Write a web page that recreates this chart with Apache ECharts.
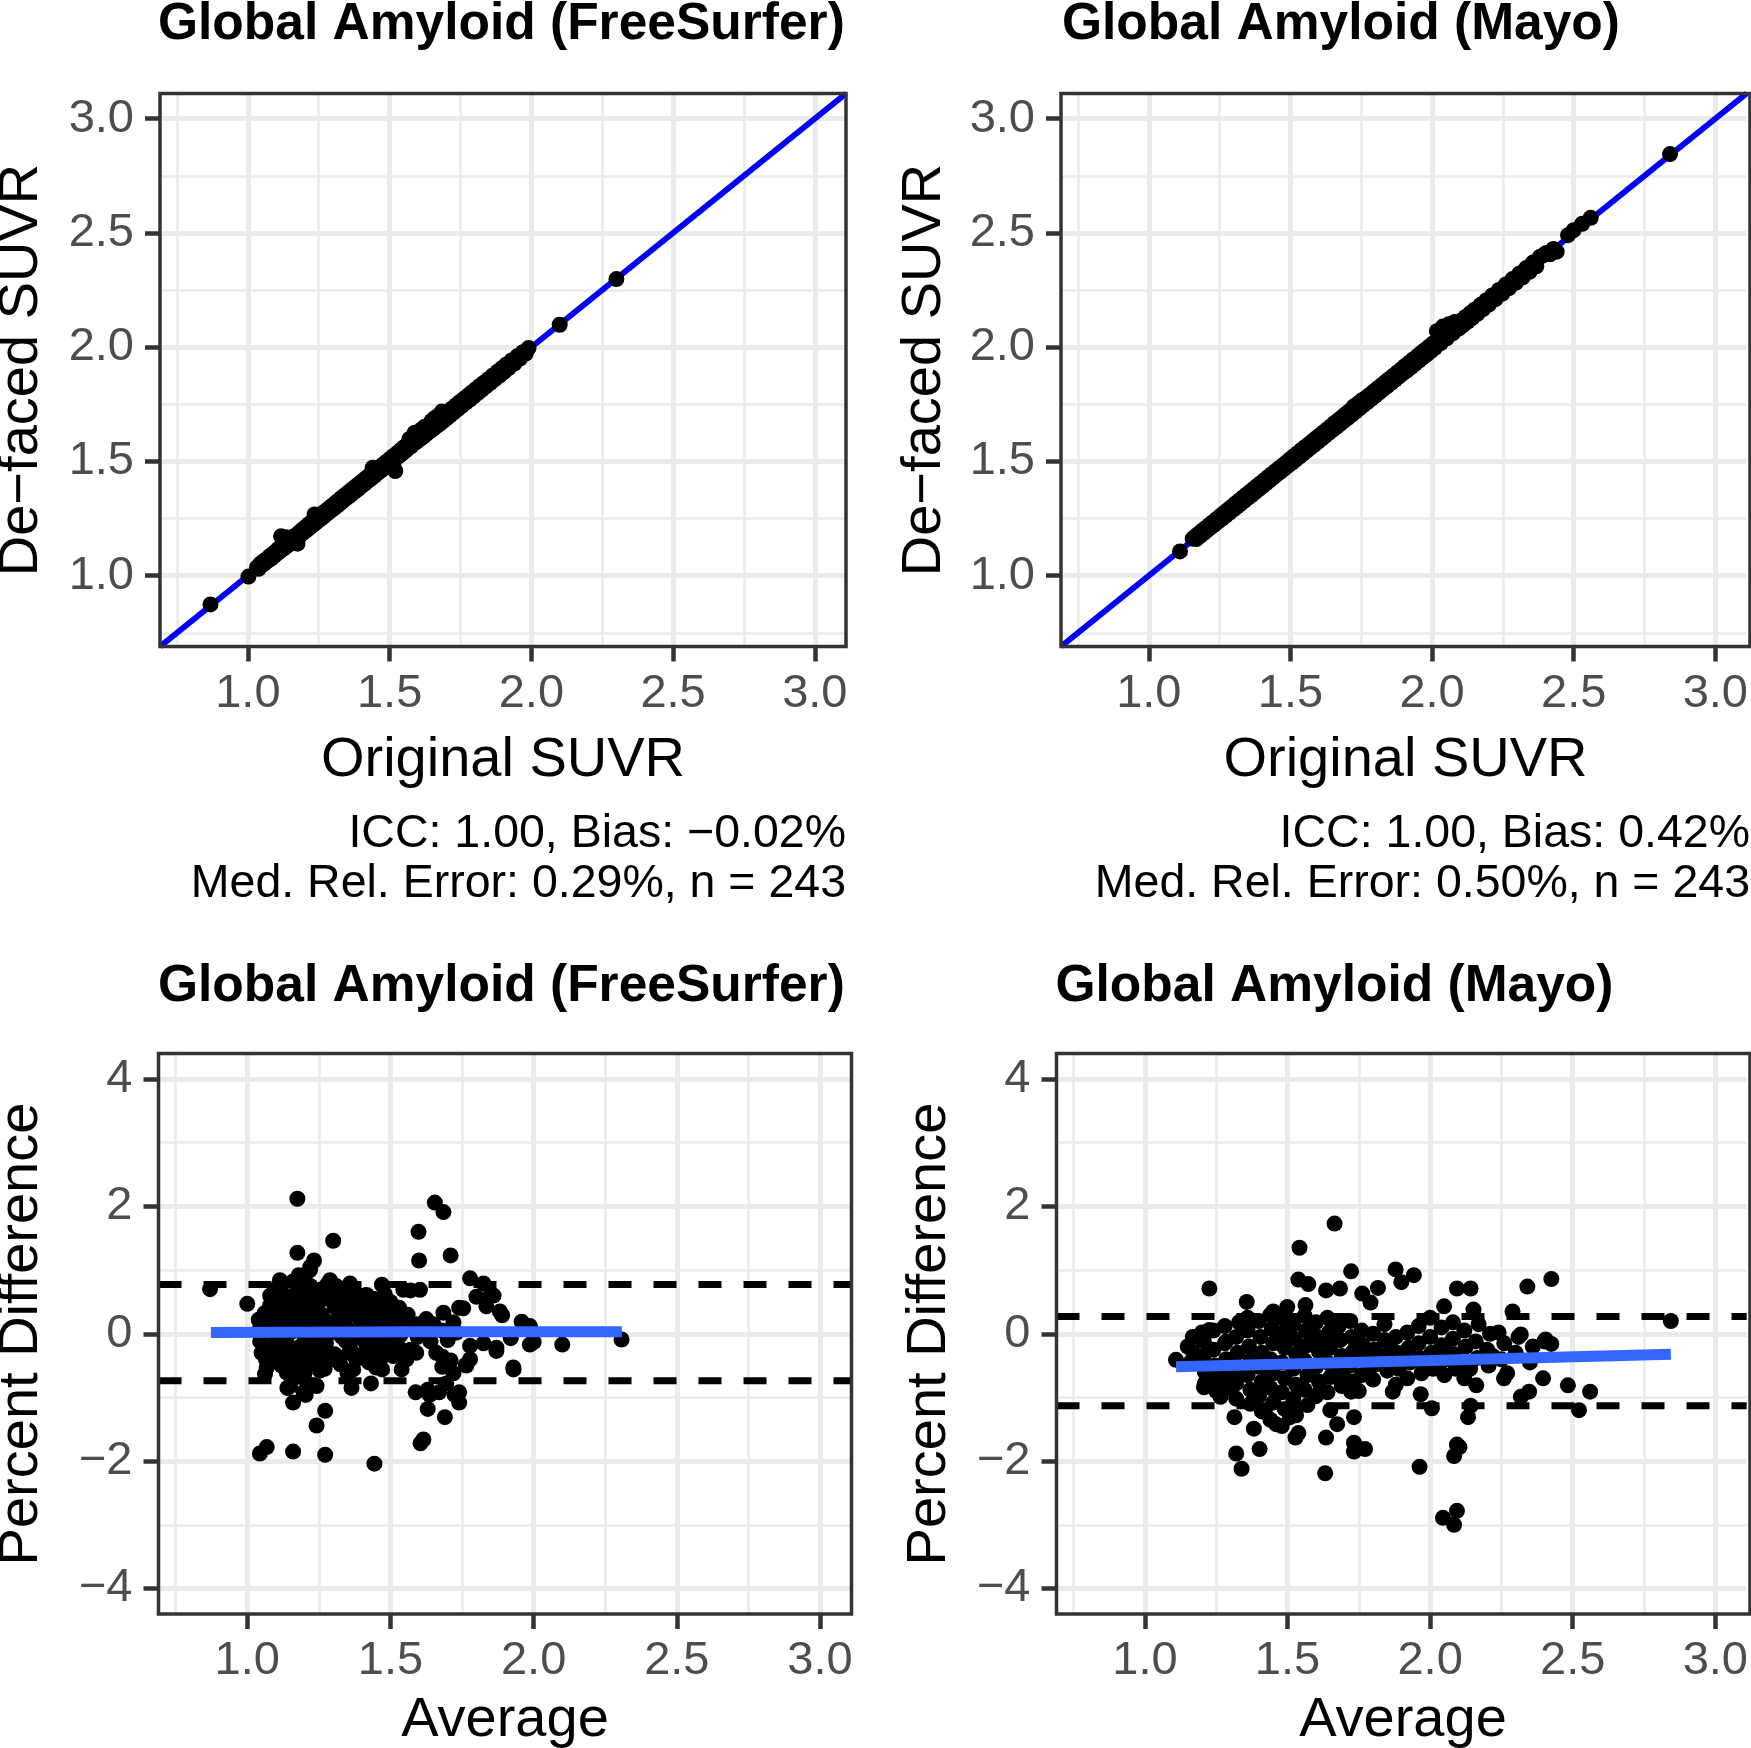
<!DOCTYPE html>
<html>
<head>
<meta charset="utf-8">
<script src="https://cdn.jsdelivr.net/npm/echarts@6/dist/echarts.min.js"></script>
<style>
html,body{margin:0;padding:0;background:#fff;}
#chart{width:1751px;height:1748px;}
</style>
</head>
<body>
<div id="chart"></div>
<script>
// ---------------- DATA ----------------
const panelTitles = ['Global Amyloid (FreeSurfer)', 'Global Amyloid (Mayo)', 'Global Amyloid (FreeSurfer)', 'Global Amyloid (Mayo)'];
const xAxisTitles = ['Original SUVR', 'Original SUVR', 'Average', 'Average'];
const yAxisTitles = ['De\u2212faced SUVR', 'De\u2212faced SUVR', 'Percent Difference', 'Percent Difference'];
const captionsFS = ['ICC: 1.00, Bias: \u22120.02%', 'Med. Rel. Error: 0.29%, n = 243'];
const captionsMayo = ['ICC: 1.00, Bias: 0.42%', 'Med. Rel. Error: 0.50%, n = 243'];

const suvrTicks = [1.0, 1.5, 2.0, 2.5, 3.0];
const suvrMinor = [0.75, 1.25, 1.75, 2.25, 2.75];
const pctTicks = [-4, -2, 0, 2, 4];
const pctMinor = [-3, -1, 1, 3];
const suvrRange = [0.69, 3.11];
const pctRange = [-4.4, 4.4];

// identity reference line (y = x) across the axis range
const identityLine = [[0.69, 0.69], [3.11, 3.11]];

// limits of agreement (dashed) and smooth fits (blue)
const fsLimits = [0.774, -0.737];
const mayoLimits = [0.27, -1.13];
const fsSmooth = [[0.873, 0.02], [1.6, 0.03], [2.308, 0.03]];
const mayoSmooth = [[1.109, -0.52], [2.0, -0.42], [2.844, -0.32]];

// Original vs De-faced (FreeSurfer)
const fsScatter = [
[0.868,0.874],[1.002,0.996],
[1.032,1.036],[1.038,1.030],[1.044,1.052],[1.050,1.046],[1.055,1.063],[1.060,1.054],[1.066,1.072],[1.071,1.066],[1.077,1.085],[1.082,1.075],[1.088,1.095],[1.093,1.087],[1.098,1.106],
[1.104,1.098],[1.108,1.118],[1.113,1.106],[1.117,1.172],[1.121,1.129],[1.126,1.119],[1.130,1.140],[1.135,1.168],[1.139,1.131],[1.144,1.153],[1.148,1.141],[1.153,1.161],[1.157,1.149],[1.162,1.171],[1.166,1.160],[1.171,1.178],[1.175,1.140],[1.180,1.188],[1.184,1.176],[1.189,1.198],[1.194,1.186],[1.198,1.207],
[1.203,1.195],[1.207,1.216],[1.212,1.204],[1.216,1.226],[1.221,1.214],[1.226,1.234],[1.230,1.222],[1.235,1.268],[1.239,1.231],[1.244,1.253],[1.248,1.241],[1.253,1.262],[1.258,1.250],[1.262,1.272],[1.267,1.259],[1.271,1.280],[1.276,1.268],[1.281,1.290],[1.285,1.277],[1.290,1.299],[1.295,1.287],
[1.300,1.309],[1.305,1.296],[1.310,1.320],[1.315,1.306],[1.320,1.329],[1.325,1.316],[1.330,1.340],[1.335,1.326],[1.340,1.350],[1.345,1.337],[1.350,1.360],[1.355,1.346],[1.360,1.370],[1.365,1.356],[1.370,1.380],[1.376,1.367],[1.382,1.392],[1.388,1.378],[1.394,1.404],
[1.400,1.391],[1.406,1.416],[1.412,1.402],[1.418,1.428],[1.424,1.415],[1.430,1.440],[1.436,1.426],[1.440,1.472],[1.442,1.452],[1.448,1.438],[1.454,1.464],[1.460,1.451],[1.466,1.476],[1.472,1.462],[1.478,1.488],[1.484,1.475],[1.490,1.500],[1.496,1.486],
[1.502,1.512],[1.508,1.498],[1.514,1.524],[1.520,1.458],[1.522,1.512],[1.528,1.538],[1.534,1.524],[1.540,1.551],[1.546,1.536],[1.552,1.563],[1.558,1.548],[1.564,1.575],[1.570,1.598],[1.576,1.566],[1.582,1.593],[1.588,1.625],[1.594,1.584],
[1.600,1.611],[1.606,1.596],[1.612,1.640],[1.618,1.608],[1.624,1.652],[1.630,1.620],[1.636,1.648],[1.642,1.632],[1.648,1.677],[1.654,1.642],[1.660,1.690],[1.666,1.654],[1.672,1.700],[1.678,1.666],[1.684,1.718],[1.690,1.678],[1.696,1.708],
[1.702,1.690],[1.708,1.720],[1.714,1.702],[1.720,1.732],[1.727,1.715],[1.734,1.746],[1.741,1.729],[1.748,1.760],[1.755,1.743],[1.762,1.774],[1.769,1.757],[1.776,1.788],[1.783,1.771],[1.790,1.802],[1.797,1.785],
[1.804,1.816],[1.811,1.799],[1.818,1.830],[1.825,1.813],[1.832,1.844],[1.840,1.828],[1.848,1.860],[1.856,1.844],[1.864,1.876],[1.872,1.860],[1.880,1.892],[1.888,1.876],[1.896,1.908],[1.904,1.892],[1.912,1.924],[1.920,1.908],[1.930,1.942],[1.940,1.928],[1.950,1.960],[1.960,1.950],[1.970,1.978],[1.980,1.972],[1.990,1.996],
[2.100,2.098],[2.300,2.298]
];

// Original vs De-faced (Mayo)
const mayoScatter = [
[1.110,1.106],
[1.155,1.162],[1.162,1.170],[1.168,1.160],[1.175,1.183],[1.181,1.173],[1.188,1.196],[1.194,1.186],[1.201,1.209],[1.207,1.199],[1.214,1.222],[1.220,1.212],[1.227,1.235],[1.233,1.225],[1.240,1.248],[1.246,1.238],[1.253,1.262],[1.259,1.250],[1.266,1.275],[1.272,1.263],[1.279,1.288],[1.285,1.276],[1.292,1.301],[1.298,1.289],
[1.305,1.315],[1.311,1.301],[1.318,1.328],[1.324,1.314],[1.331,1.341],[1.337,1.327],[1.344,1.354],[1.350,1.340],[1.357,1.367],[1.363,1.353],[1.370,1.380],[1.376,1.366],[1.383,1.393],[1.389,1.379],[1.396,1.406],[1.402,1.392],[1.409,1.419],[1.415,1.405],[1.422,1.432],[1.428,1.418],[1.435,1.445],[1.441,1.431],[1.448,1.458],[1.454,1.444],[1.461,1.471],[1.467,1.457],[1.474,1.484],[1.480,1.470],[1.487,1.497],[1.493,1.483],
[1.500,1.511],[1.506,1.495],[1.513,1.524],[1.519,1.508],[1.526,1.537],[1.532,1.521],[1.539,1.550],[1.545,1.534],[1.552,1.563],[1.558,1.547],[1.565,1.576],[1.571,1.560],[1.578,1.589],[1.584,1.573],[1.591,1.602],[1.597,1.586],[1.604,1.615],[1.610,1.599],[1.617,1.628],[1.623,1.612],[1.630,1.641],[1.636,1.625],[1.643,1.654],[1.649,1.638],[1.656,1.668],[1.662,1.650],[1.669,1.681],[1.675,1.663],[1.682,1.694],[1.688,1.676],[1.695,1.707],
[1.702,1.690],[1.709,1.721],[1.716,1.704],[1.723,1.740],[1.730,1.718],[1.737,1.752],[1.744,1.732],[1.751,1.766],[1.758,1.746],[1.765,1.777],[1.772,1.760],[1.779,1.791],[1.786,1.774],[1.793,1.805],[1.800,1.788],[1.807,1.819],[1.814,1.802],[1.821,1.833],[1.828,1.816],[1.835,1.847],[1.842,1.830],[1.849,1.861],[1.856,1.844],[1.863,1.875],[1.870,1.858],[1.877,1.889],[1.884,1.872],[1.891,1.903],
[1.898,1.886],[1.905,1.918],[1.912,1.899],[1.919,1.932],[1.926,1.913],[1.933,1.946],[1.940,1.927],[1.947,1.960],[1.954,1.941],[1.961,1.974],[1.968,1.955],[1.975,1.988],[1.982,1.969],[1.989,2.002],[1.996,1.983],[2.003,2.016],[2.010,1.997],[2.017,2.070],[2.024,2.037],[2.031,2.018],[2.038,2.090],[2.045,2.058],[2.052,2.039],[2.059,2.100],[2.066,2.079],[2.073,2.060],[2.080,2.110],[2.087,2.100],[2.094,2.081],
[2.102,2.116],[2.110,2.096],[2.118,2.132],[2.126,2.112],[2.134,2.148],[2.142,2.128],[2.150,2.164],[2.160,2.146],[2.170,2.184],[2.180,2.166],[2.190,2.204],[2.200,2.186],[2.212,2.226],[2.224,2.210],[2.236,2.250],[2.248,2.234],[2.260,2.274],[2.272,2.258],[2.284,2.298],[2.296,2.282],[2.308,2.322],[2.320,2.306],[2.332,2.346],[2.344,2.330],[2.356,2.370],[2.368,2.354],[2.380,2.394],[2.392,2.402],[2.404,2.412],[2.416,2.406],[2.428,2.430],[2.440,2.418],[2.480,2.490],[2.500,2.512],[2.530,2.540],[2.560,2.566],
[2.840,2.845]
];

// Bland-Altman (FreeSurfer): [average, percent difference]
const fsBlandAltman = [
[0.87,0.70],[1.00,0.47],[1.175,2.12],[1.30,1.46],[1.175,1.27],[1.233,1.15],[1.219,1.00],[1.598,1.60],[1.60,1.15],[1.655,2.06],
[1.685,1.91],[1.71,1.23],[1.778,0.87],[1.825,0.79],[1.80,0.58],[1.85,0.61],[1.754,0.40],[1.882,0.35],[1.835,0.43],[1.958,0.19],
[1.987,0.12],[1.685,0.33],[1.625,0.23],[1.72,0.18],[1.825,-0.15],[1.87,-0.22],[1.92,-0.07],[1.987,-0.17],[2.10,-0.17],[2.307,-0.09],
[1.778,-0.19],[1.778,-0.40],[1.765,-0.50],[1.929,-0.53],[1.681,-0.36],[1.681,-0.52],[1.72,-0.62],[1.63,-0.88],[1.67,-0.92],[1.74,-0.92],
[1.74,-1.08],[1.69,-1.31],[1.63,-1.18],[1.605,-1.72],[1.615,-1.66],[1.60,0.0],[1.114,0.84],[1.184,0.84],[1.289,0.84],[1.359,0.79],
[1.47,0.77],[1.417,0.61],[1.545,0.69],[1.52,0.40],[1.603,0.69],[1.068,-0.53],[1.138,-0.61],[1.254,-0.58],[1.37,-0.56],[1.45,-0.53],
[1.149,-0.82],[1.196,-0.92],[1.242,-0.82],[1.16,-1.08],[1.272,-1.21],[1.242,-1.44],[1.068,-1.78],[1.044,-1.88],[1.16,-1.85],[1.272,-1.90],
[1.444,-2.04],[1.556,-0.40],[1.52,-0.19],[1.364,-0.85],[1.432,-0.78],[1.588,-0.92],[1.637,-0.96],[1.724,-0.96],[1.695,-0.78],[1.763,-0.49],
[1.539,-0.56],[1.471,-0.56],[1.062,-0.63],[1.315,-0.42],[1.204,-0.96],[1.14,-0.85],[1.41,0.60],[1.57,0.68],[1.53,0.41],[1.74,0.41],
[1.86,0.60],[1.89,0.29],[1.93,-0.56],[1.87,-0.27],[2.0,-0.13],
[1.04,0.05],[1.045,-0.12],[1.05,-0.30],[1.04,0.22],
[1.06,0.32],[1.065,0.10],[1.07,-0.22],[1.065,-0.40],
[1.08,0.45],[1.085,0.25],[1.09,-0.15],[1.085,-0.33],[1.08,0.60],
[1.10,0.70],[1.105,0.52],[1.11,0.15],[1.10,-0.02],[1.11,-0.45],
[1.12,0.78],[1.125,0.62],[1.12,0.40],[1.13,0.22],[1.125,-0.10],[1.13,-0.30],[1.12,-0.50],
[1.14,0.55],[1.145,0.38],[1.15,0.02],[1.145,-0.20],[1.14,-0.38],
[1.16,0.82],[1.165,0.60],[1.17,0.28],[1.16,0.10],[1.17,-0.28],[1.16,-0.50],[1.17,-0.68],
[1.18,0.72],[1.185,0.52],[1.18,0.35],[1.19,0.15],[1.185,-0.20],[1.19,-0.42],[1.18,0.92],
[1.20,0.85],[1.205,0.65],[1.20,0.46],[1.21,0.25],[1.20,0.05],[1.21,-0.35],[1.20,-0.62],[1.21,-0.78],
[1.22,0.75],[1.225,0.55],[1.23,0.12],[1.22,-0.05],[1.225,-0.25],[1.23,-0.45],[1.22,1.05],
[1.24,0.62],[1.245,0.42],[1.25,0.02],[1.245,-0.18],[1.24,-0.38],
[1.26,0.70],[1.26,0.30],[1.27,0.10],[1.265,-0.30],[1.27,-0.55],
[1.28,0.78],[1.285,0.55],[1.29,0.18],[1.28,-0.02],[1.29,-0.40],
[1.30,0.62],[1.305,0.42],[1.31,0.05],[1.305,-0.32],[1.31,0.75],
[1.32,0.55],[1.325,0.35],[1.33,-0.05],[1.325,-0.48],
[1.34,0.68],[1.34,0.25],[1.35,0.08],[1.345,-0.12],[1.35,-0.62],
[1.36,0.52],[1.365,0.30],[1.37,-0.08],[1.365,-0.28],
[1.38,0.62],[1.385,0.40],[1.39,0.02],[1.38,-0.40],
[1.40,0.48],[1.405,0.28],[1.41,-0.12],[1.405,-0.32],
[1.42,0.38],[1.425,0.18],[1.43,-0.22],[1.425,-0.45],
[1.44,0.55],[1.445,0.30],[1.45,-0.08],[1.445,-0.28],
[1.46,0.42],[1.465,0.20],[1.47,-0.20],[1.465,-0.40],
[1.48,0.62],[1.485,0.32],[1.49,-0.05],[1.485,-0.25],
[1.50,0.25],[1.505,0.05],[1.51,-0.35],[1.50,0.50],
[1.53,0.18],[1.535,-0.02],[1.53,-0.22],
[1.56,0.30],[1.565,0.10],[1.57,-0.25],
[1.59,0.15],[1.595,-0.05],[1.59,-0.30],
[1.62,0.08],[1.64,-0.12],[1.65,0.15],[1.66,-0.30],[1.68,0.05],[1.70,-0.10],[1.71,-0.42],[1.73,0.02],
[1.095,0.35],[1.135,-0.05],[1.155,0.45],[1.195,0.00],[1.235,0.30],[1.255,0.55],[1.275,-0.15],[1.335,0.45],[1.355,-0.30],[1.395,0.22]
];

// Bland-Altman (Mayo): [average, percent difference]
const mayoBlandAltman = [
[1.665,1.73],[1.542,1.35],[1.723,0.98],[1.879,1.01],[1.943,0.92],[1.899,0.81],[2.425,0.86],[2.341,0.74],[1.226,0.71],[1.538,0.85],
[1.573,0.78],[1.635,0.68],[1.684,0.71],[1.762,0.63],[1.817,0.72],[1.791,0.49],[2.094,0.71],[2.142,0.71],[2.049,0.43],[2.152,0.38],
[2.289,0.35],[2.844,0.20],[1.357,0.50],[1.563,0.45],[1.499,0.42],[1.45,0.35],[1.226,0.06],[1.168,-0.05],[1.285,-0.12],[1.109,-0.41],
[1.207,-0.84],[1.265,-0.99],[1.314,-1.31],[1.32,-1.88],[1.339,-2.12],[1.402,-1.81],[1.382,-1.49],[1.421,-1.20],[1.46,-1.42],[1.509,-1.31],
[1.538,-1.56],[1.528,-1.63],[1.632,-2.19],[1.674,-1.42],[1.635,-1.63],[1.616,-0.88],[1.733,-1.71],[1.733,-1.85],[1.772,-1.81],[1.733,-1.31],
[1.723,-0.91],[1.772,-0.63],[1.869,-0.91],[1.967,-0.95],[1.963,-2.09],[2.006,-1.17],[2.094,-1.74],[2.084,-1.92],[2.103,-1.78],[2.045,-2.89],
[2.094,-2.78],[2.084,-3.0],[2.133,-1.31],[2.142,-1.13],[2.162,-0.81],[2.259,-0.70],[2.318,-0.99],[2.347,-0.91],[2.396,-0.70],[2.483,-0.81],
[2.561,-0.91],[2.522,-1.20],[2.318,-0.01],[2.405,-0.09],[2.425,-0.16],[2.24,0.02],[1.207,-0.12],
[1.15,-0.20],[1.16,-0.45],[1.17,-0.30],
[1.20,-0.10],[1.205,-0.35],[1.21,-0.60],[1.20,0.02],[1.21,-0.78],
[1.24,-0.25],[1.245,-0.50],[1.25,-0.70],[1.24,0.05],[1.25,-0.90],
[1.28,-0.15],[1.285,-0.40],[1.29,-0.62],[1.28,0.12],[1.29,-0.85],
[1.32,-0.05],[1.325,-0.30],[1.33,-0.55],[1.32,-0.78],[1.33,0.18],[1.32,-1.02],
[1.36,0.05],[1.365,-0.20],[1.37,-0.42],[1.36,-0.65],[1.37,-0.88],[1.36,0.25],[1.37,-1.10],
[1.40,0.20],[1.405,-0.05],[1.41,-0.30],[1.40,-0.52],[1.41,-0.75],[1.40,-0.98],[1.41,-1.22],
[1.44,0.30],[1.445,0.08],[1.45,-0.15],[1.44,-0.40],[1.45,-0.62],[1.44,-0.85],[1.45,-1.08],[1.44,-1.35],
[1.48,0.25],[1.485,0.02],[1.49,-0.22],[1.48,-0.45],[1.49,-0.70],[1.48,-0.92],[1.49,-1.18],[1.48,-1.45],
[1.52,0.15],[1.525,-0.08],[1.53,-0.32],[1.52,-0.55],[1.53,-0.80],[1.52,-1.02],[1.53,-1.28],
[1.56,0.28],[1.565,0.05],[1.57,-0.18],[1.56,-0.42],[1.57,-0.65],[1.56,-0.88],[1.57,-1.12],
[1.60,0.18],[1.605,-0.05],[1.61,-0.28],[1.60,-0.52],[1.61,-0.75],[1.60,-0.98],
[1.64,0.25],[1.645,0.02],[1.65,-0.22],[1.64,-0.45],[1.65,-0.68],[1.64,-0.92],[1.65,-1.20],
[1.68,0.12],[1.685,-0.10],[1.69,-0.35],[1.68,-0.58],[1.69,-0.82],
[1.72,0.20],[1.725,-0.05],[1.73,-0.28],[1.72,-0.50],[1.73,-0.75],
[1.76,0.05],[1.765,-0.18],[1.77,-0.40],[1.76,-0.65],[1.77,-0.30],
[1.80,0.00],[1.805,-0.25],[1.81,-0.48],[1.80,-0.72],
[1.84,-0.10],[1.845,-0.35],[1.85,-0.58],[1.84,0.15],
[1.88,-0.05],[1.885,-0.30],[1.89,-0.55],[1.88,-0.80],
[1.92,0.02],[1.925,-0.22],[1.93,-0.45],[1.92,-0.70],
[1.96,-0.15],[1.965,-0.38],[1.97,-0.62],[1.96,0.12],
[2.00,-0.05],[2.005,-0.30],[2.01,-0.55],[2.00,0.25],
[2.04,-0.18],[2.045,-0.42],[2.05,-0.65],[2.04,0.10],
[2.08,-0.08],[2.085,-0.32],[2.09,-0.55],[2.08,0.18],
[2.12,0.05],[2.125,-0.20],[2.13,-0.45],[2.12,-0.70],
[2.16,-0.12],[2.165,-0.38],[2.17,0.15],
[2.20,-0.25],[2.205,-0.50],[2.21,0.00],
[2.25,-0.40],[2.26,-0.15],[2.27,-0.62],
[2.30,-0.30],[2.31,-0.05],[2.35,-0.45],[2.36,-0.20],[2.40,-0.12],
[1.30,-0.70],[1.43,-0.60],[1.54,-0.30],[1.58,-0.60],[1.62,-0.40],[1.66,-0.55],[1.70,-0.70],[1.75,-0.90],[1.82,-0.35],[1.90,-0.40],
[1.98,-0.50],[2.06,-0.30],[2.14,-0.55],[2.22,-0.35],[1.47,-0.10],[1.55,-0.20],[1.63,-0.10],[1.74,-0.15],[1.86,-0.20]
];

// ---------------- LAYOUT / STYLE ----------------
const FONT = '"Liberation Sans", Arial, Helvetica, sans-serif';
const grids = [
  {left: 160, top: 93.5, width: 686, height: 553},
  {left: 1061, top: 93.5, width: 689, height: 553},
  {left: 158.5, top: 1053.5, width: 693, height: 560.5},
  {left: 1056.5, top: 1053.5, width: 693.5, height: 560.5}
];
const fmt1 = v => Number(v).toFixed(1);
const fmtInt = v => (v < 0 ? '\u2212' + Math.abs(v) : String(v));

function makeAxis(gi, ticks, range, formatter, isY) {
  return {
    type: 'value', gridIndex: gi, min: range[0], max: range[1],
    axisLine: {show: false, onZero: false},
    splitLine: {show: false},
    axisTick: {show: true, inside: false, length: 15, customValues: ticks,
      lineStyle: {color: '#333333', width: 4.5}},
    axisLabel: {show: true, customValues: ticks, formatter: formatter,
      color: '#4D4D4D', fontSize: 47, fontFamily: FONT, margin: isY ? 26 : 24}
  };
}

function gridLineSeries(gi, xMaj, xMin, yMaj, yMin) {
  const d = [];
  xMin.forEach(v => d.push({xAxis: v, lineStyle: {width: 2.5, color: '#EBEBEB', type: 'solid'}}));
  yMin.forEach(v => d.push({yAxis: v, lineStyle: {width: 2.5, color: '#EBEBEB', type: 'solid'}}));
  xMaj.forEach(v => d.push({xAxis: v, lineStyle: {width: 5, color: '#EBEBEB', type: 'solid'}}));
  yMaj.forEach(v => d.push({yAxis: v, lineStyle: {width: 5, color: '#EBEBEB', type: 'solid'}}));
  return {
    type: 'line', xAxisIndex: gi, yAxisIndex: gi, data: [], silent: true, z: 0, zlevel: 0,
    markLine: {silent: true, z: 0, symbol: ['none', 'none'], animation: false,
      label: {show: false}, emphasis: {disabled: true}, data: d}
  };
}

function scatterSeries(gi, data) {
  return {type: 'scatter', xAxisIndex: gi, yAxisIndex: gi, data: data, symbol: 'circle',
    symbolSize: 16, itemStyle: {color: '#000000', opacity: 1}, z: 3, silent: true};
}
function lineSeries(gi, data, color, width, dash, z) {
  return {type: 'line', xAxisIndex: gi, yAxisIndex: gi, data: data, showSymbol: false, symbol: 'none',
    lineStyle: {color: color, width: width, type: dash || 'solid', cap: 'butt'}, z: z, silent: true};
}

const xAxes = [0, 1, 2, 3].map(i => makeAxis(i, suvrTicks, suvrRange, fmt1, false));
const yAxes = [
  makeAxis(0, suvrTicks, suvrRange, fmt1, true),
  makeAxis(1, suvrTicks, suvrRange, fmt1, true),
  makeAxis(2, pctTicks, pctRange, fmtInt, true),
  makeAxis(3, pctTicks, pctRange, fmtInt, true)
];

const series = [
  gridLineSeries(0, suvrTicks, suvrMinor, suvrTicks, suvrMinor),
  gridLineSeries(1, suvrTicks, suvrMinor, suvrTicks, suvrMinor),
  gridLineSeries(2, suvrTicks, suvrMinor, pctTicks, pctMinor),
  gridLineSeries(3, suvrTicks, suvrMinor, pctTicks, pctMinor),
  lineSeries(0, identityLine, '#0000FF', 6, 'solid', 2),
  lineSeries(1, identityLine, '#0000FF', 6, 'solid', 2),
  scatterSeries(0, fsScatter),
  scatterSeries(1, mayoScatter),
  scatterSeries(2, fsBlandAltman),
  scatterSeries(3, mayoBlandAltman),
  lineSeries(2, [[suvrRange[0], fsLimits[0]], [suvrRange[1], fsLimits[0]]], '#000000', 7, [23, 22], 4),
  lineSeries(2, [[suvrRange[0], fsLimits[1]], [suvrRange[1], fsLimits[1]]], '#000000', 7, [23, 22], 4),
  lineSeries(3, [[suvrRange[0], mayoLimits[0]], [suvrRange[1], mayoLimits[0]]], '#000000', 7, [23, 22], 4),
  lineSeries(3, [[suvrRange[0], mayoLimits[1]], [suvrRange[1], mayoLimits[1]]], '#000000', 7, [23, 22], 4),
  lineSeries(2, fsSmooth, '#3366FF', 11, 'solid', 5),
  lineSeries(3, mayoSmooth, '#3366FF', 11, 'solid', 5)
];

// text positions (layout)
const titlePos = [[158, 25], [1062, 25], [158, 986.5], [1055.5, 986.5]];
const xNamePos = [[503, 760.5], [1405.5, 760.5], [505, 1720.5], [1403, 1720.5]];
const yNamePos = [[22, 370], [925, 370], [22, 1334], [929.5, 1334]];

const graphics = [];
grids.forEach((g, i) => {
  graphics.push({type: 'rect', silent: true, z: 100,
    shape: {x: g.left, y: g.top, width: g.width, height: g.height},
    style: {fill: null, stroke: '#333333', lineWidth: 3.5}});
  graphics.push({type: 'text', silent: true, z: 100, x: titlePos[i][0], y: titlePos[i][1],
    style: {text: panelTitles[i], fill: '#000000', fontSize: 51.5, fontWeight: 'bold', fontFamily: FONT,
      align: 'left', verticalAlign: 'middle'}});
  graphics.push({type: 'text', silent: true, z: 100, x: xNamePos[i][0], y: xNamePos[i][1],
    style: {text: xAxisTitles[i], fill: '#000000', fontSize: 56, fontFamily: FONT,
      align: 'center', verticalAlign: 'middle'}});
  graphics.push({type: 'text', silent: true, z: 100, x: yNamePos[i][0], y: yNamePos[i][1], rotation: Math.PI / 2,
    style: {text: yAxisTitles[i], fill: '#000000', fontSize: 56, fontFamily: FONT,
      align: 'center', verticalAlign: 'middle'}});
});
[[captionsFS, 846], [captionsMayo, 1750]].forEach(([lines, xr]) => {
  lines.forEach((t, k) => {
    graphics.push({type: 'text', silent: true, z: 100, x: xr, y: 834.5 + k * 50,
      style: {text: t, fill: '#000000', fontSize: 46.5, fontFamily: FONT, align: 'right', verticalAlign: 'middle'}});
  });
});

const chart = echarts.init(document.getElementById('chart'), null, {renderer: 'canvas'});
chart.setOption({
  animation: false,
  backgroundColor: '#FFFFFF',
  grid: grids.map(g => Object.assign({show: false, containLabel: false}, g)),
  xAxis: xAxes,
  yAxis: yAxes,
  series: series,
  graphic: graphics
});
</script>
</body>
</html>
